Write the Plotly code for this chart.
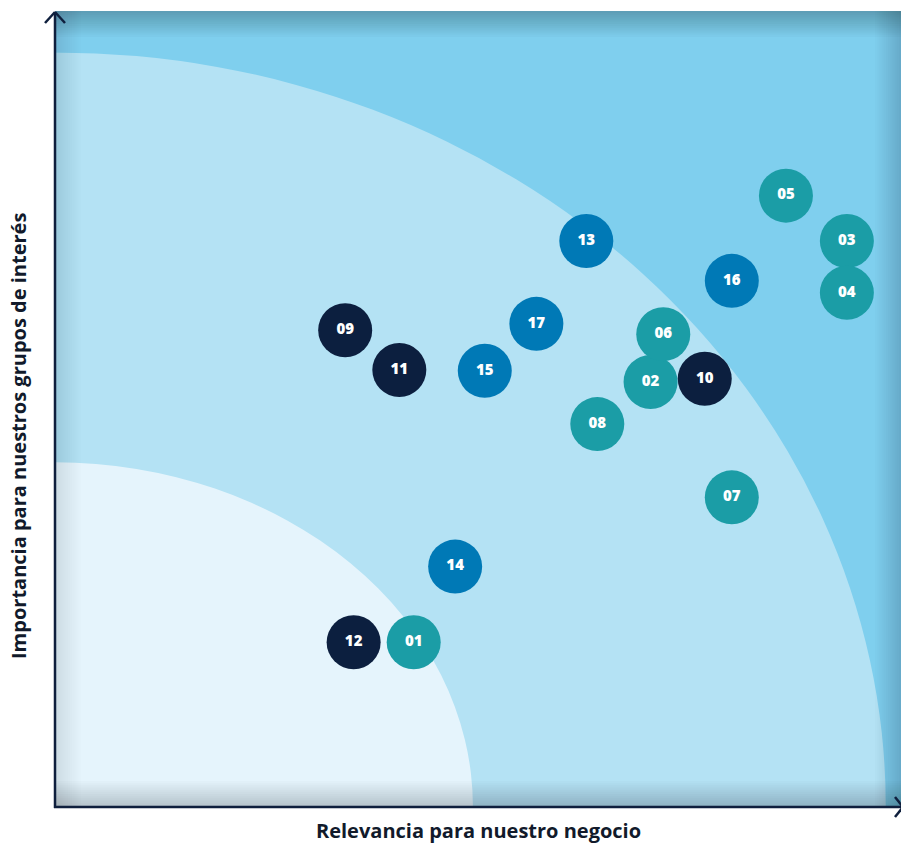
import plotly.graph_objects as go

# temas materiales: codigo, relevancia (x), importancia (y), grupo
codigos = ["01", "02", "03", "04", "05", "06", "07", "08",
           "09", "10", "11", "12",
           "13", "14", "15", "16", "17"]
relevancia = [4.24, 7.04, 9.36, 9.36, 8.64, 7.19, 8.00, 6.41,
              3.43, 7.68, 4.07, 3.53,
              6.28, 4.73, 5.08, 8.00, 5.69]
importancia = [2.07, 5.34, 7.11, 6.46, 7.68, 5.94, 3.89, 4.81,
               5.99, 5.38, 5.49, 2.07,
               7.11, 3.02, 5.48, 6.61, 6.07]
grupos = ["a"] * 8 + ["b"] * 4 + ["c"] * 5

colores_grupo = {"a": "#1b9da6", "b": "#0c1f3f", "c": "#0079b6"}

# zonas (cuartos de elipse centrados en el origen)
zona_media = (9.82, 9.48)
zona_baja = (4.94, 4.33)

W, H = 901, 845
L, R, T, B = 55, 0, 11, 38
PW, PH = W - L - R, H - T - B


def px(x, y):
    # pixel -> paper
    return (x - L) / PW, (H - B - y) / PH


shapes = []

# zonas de fondo
for (rx, ry), col in [(zona_media, "#b4e2f4"), (zona_baja, "#e5f4fc")]:
    shapes.append(dict(type="circle", xref="x", yref="y", x0=-rx, x1=rx, y0=-ry, y1=ry,
                       fillcolor=col, line=dict(width=0), layer="below"))

# sombra interior en los bordes del panel (en unidades de datos, misma capa que las zonas)
n = 12
for i in range(n):
    w = 26 * (i + 1) / n
    fx, fy = 10 * w / PW, 10 * w / PH
    for (x0, x1, y0, y1), op in [((0, 10, 10 - fy, 10), 0.021), ((0, 10, 0, fy), 0.015),
                                 ((0, fx, 0, 10), 0.009), ((10 - fx, 10, 0, 10), 0.013)]:
        shapes.append(dict(type="rect", xref="x", yref="y",
                           x0=x0, x1=x1, y0=y0, y1=y1,
                           fillcolor="black", opacity=op, line=dict(width=0), layer="below"))

# ejes con flechas
navy = "#0f1f3d"
for (xa, ya), (xb, yb) in [((55, 808), (55, 12)), ((54, 807), (903, 807)),
                           ((45, 23), (55, 12)), ((65, 23), (55, 12)),
                           ((895, 797), (903, 807)), ((895, 817), (903, 807))]:
    p0, p1 = px(xa, ya), px(xb, yb)
    shapes.append(dict(type="line", xref="paper", yref="paper",
                       x0=p0[0], y0=p0[1], x1=p1[0], y1=p1[1],
                       line=dict(color=navy, width=2.5), layer="above"))

fig = go.Figure(go.Scatter(
    x=relevancia, y=importancia, text=codigos, mode="markers+text",
    marker=dict(size=54, color=[colores_grupo[g] for g in grupos], line=dict(width=0), opacity=1),
    textfont=dict(color="white", size=15, family="Open Sans", weight=800),
    textposition="middle center", hoverinfo="text", cliponaxis=False,
))

ax = dict(range=[0, 10], visible=False, fixedrange=True)
fig.update_layout(
    width=W, height=H, margin=dict(l=L, r=R, t=T, b=B),
    paper_bgcolor="white", plot_bgcolor="#7fcfee",
    xaxis=ax, yaxis=ax, shapes=shapes, showlegend=False,
    annotations=[
        dict(text="<b>Relevancia para nuestro negocio</b>", xref="paper", yref="paper",
             x=px(478, 0)[0], y=px(0, 831)[1], showarrow=False,
             font=dict(family="Open Sans", size=20, color="#111a2b"), xanchor="center", yanchor="middle"),
        dict(text="<b>Importancia para nuestros grupos de interés</b>", xref="paper", yref="paper",
             x=px(18, 0)[0], y=px(0, 436)[1], showarrow=False, textangle=-90,
             font=dict(family="Open Sans", size=20, color="#111a2b"), xanchor="center", yanchor="middle"),
    ],
)

# sin margen del body para que la figura ocupe la ventana exacta
fig.write_html("out.html", config={"displayModeBar": False},
               post_script="document.body.style.margin='0';document.body.style.overflow='hidden';")
